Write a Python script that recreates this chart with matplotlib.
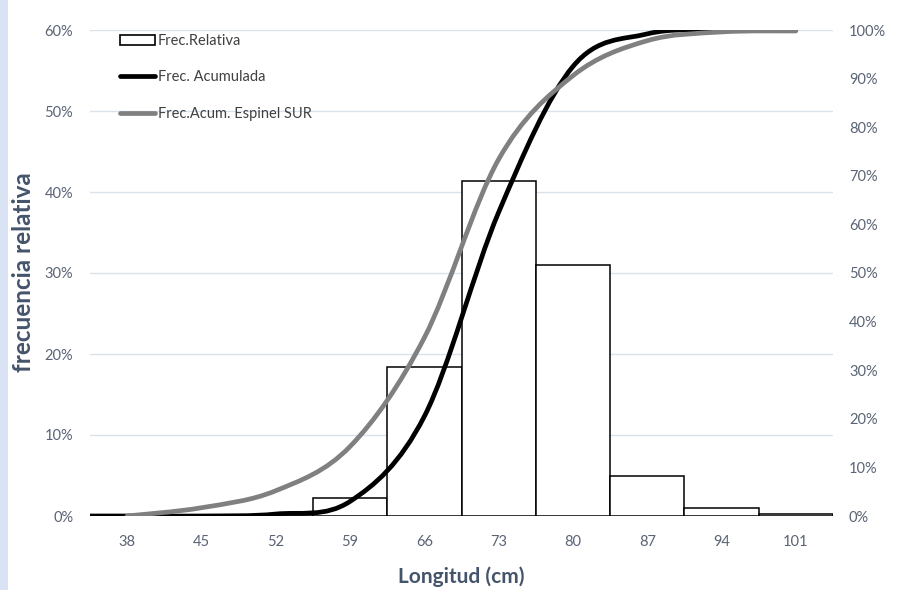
import matplotlib
matplotlib.use("Agg")
import matplotlib.pyplot as plt
import numpy as np
from matplotlib.path import Path
from matplotlib.patches import PathPatch, Rectangle
from matplotlib.lines import Line2D
from matplotlib.ticker import PercentFormatter

plt.rcParams['font.family'] = ['Lato', 'DejaVu Sans']

# Length classes (cm) and relative frequency per class
classes = [38, 45, 52, 59, 66, 73, 80, 87, 94, 101]
frec_relativa = [0.0, 0.0, 0.0, 0.022, 0.184, 0.414, 0.310, 0.049, 0.010, 0.002]

# Cumulative frequency per class (own sample), plus a zero at the lower edge of the first class
acum_start = 0.0
frec_acumulada = [0.000, 0.000, 0.004, 0.030, 0.205, 0.625, 0.925, 0.992, 1.000, 1.000]

# Cumulative frequency per class, Espinel SUR
frec_acum_sur = [0.000, 0.017, 0.052, 0.143, 0.367, 0.734, 0.906, 0.978, 0.996, 0.998]

TICK_COLOR = '#5a6475'
LABEL_COLOR = '#44546a'
GRID_COLOR = '#d9e1ec'
GRAY_LINE = '#808080'


def smooth_path(xs, ys):
    """Smoothed line (Catmull-Rom) through the points, as cubic Bezier segments."""
    pts = np.column_stack([xs, ys]).astype(float)
    n = len(pts)
    verts = [pts[0]]
    codes = [Path.MOVETO]
    for i in range(n - 1):
        p0 = pts[i - 1] if i > 0 else pts[i]
        p1 = pts[i]
        p2 = pts[i + 1]
        p3 = pts[i + 2] if i + 2 < n else pts[i + 1]
        c1 = p1 + (p2 - p0) / 6.0
        c2 = p2 - (p3 - p1) / 6.0
        verts += [c1, c2, p2]
        codes += [Path.CURVE4] * 3
    return Path(verts, codes)


fig = plt.figure(figsize=(9.01, 5.90), dpi=100)
fig.patches.append(Rectangle((0, 0), 8 / 901, 1, transform=fig.transFigure,
                             facecolor='#dae3f3', edgecolor='none', zorder=0))

ax = fig.add_axes([90 / 901, 74 / 590, 743 / 901, 486 / 590])
x = np.arange(len(classes))
ax.bar(x, frec_relativa, width=1.0, facecolor='white', edgecolor='black',
       linewidth=1.1, zorder=2)
ax.set_xlim(-0.5, len(classes) - 0.5)
ax.set_ylim(0, 0.6)
ax.set_yticks(np.arange(0, 0.61, 0.1))
ax.yaxis.set_major_formatter(PercentFormatter(1.0, decimals=0))
ax.set_xticks(x)
ax.set_xticklabels([str(c) for c in classes])
ax.grid(axis='y', color=GRID_COLOR, linewidth=1.0, zorder=0)
ax.set_axisbelow(True)
for s in ax.spines.values():
    s.set_visible(False)
ax.tick_params(axis='both', length=0, labelsize=10.5, colors=TICK_COLOR)
ax.tick_params(axis='y', pad=12)
ax.tick_params(axis='x', pad=14)

fig.text(24 / 901, 1 - 272 / 590, 'frecuencia relativa', rotation=90,
         ha='center', va='center', fontsize=17.5, fontweight='bold', color=LABEL_COLOR)
fig.text(461.5 / 901, 1 - 577 / 590, 'Longitud (cm)', ha='center', va='center',
         fontsize=15, fontweight='bold', color=LABEL_COLOR)

ax2 = ax.twinx()
ax2.set_ylim(0, 1.0)
ax2.set_yticks(np.arange(0, 1.01, 0.1))
ax2.yaxis.set_major_formatter(PercentFormatter(1.0, decimals=0))
ax2.tick_params(axis='y', length=0, labelsize=10.5, colors=TICK_COLOR, pad=11.5)
for s in ax2.spines.values():
    s.set_visible(False)

acum_x = np.concatenate([[-0.5], x])
acum_y = np.concatenate([[acum_start], frec_acumulada])
ax2.add_patch(PathPatch(smooth_path(acum_x, acum_y), facecolor='none',
                        edgecolor='black', linewidth=3.4, capstyle='round', zorder=3))
ax2.add_patch(PathPatch(smooth_path(x, frec_acum_sur), facecolor='none',
                        edgecolor=GRAY_LINE, linewidth=3.4, capstyle='round', zorder=4))

handles = [Rectangle((0, 0), 1, 1, facecolor='white', edgecolor='black', linewidth=1.2),
           Line2D([], [], color='black', linewidth=3.4, solid_capstyle='round'),
           Line2D([], [], color=GRAY_LINE, linewidth=3.4, solid_capstyle='round')]
labels = ['Frec.Relativa', 'Frec. Acumulada', 'Frec.Acum. Espinel SUR']
leg = ax2.legend(handles, labels, loc='upper left', bbox_to_anchor=(0.031, 1.007),
                 frameon=False, fontsize=10.5, labelspacing=1.55, handlelength=2.4,
                 handletextpad=0.15, borderpad=0.0, handleheight=0.7)
for t in leg.get_texts():
    t.set_color('#404040')

fig.savefig('out.png', dpi=100, facecolor='white')
